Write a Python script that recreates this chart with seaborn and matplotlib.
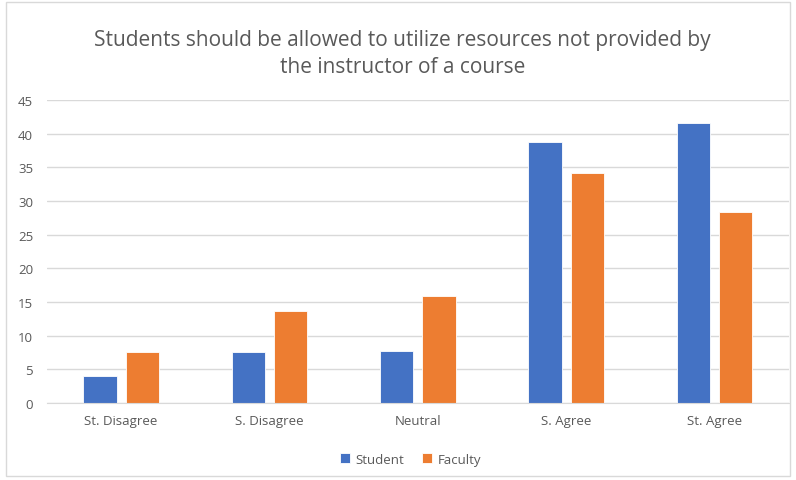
import pandas as pd
import seaborn as sns
import matplotlib.pyplot as plt
from matplotlib.patches import Rectangle

categories = ['St. Disagree', 'S. Disagree', 'Neutral', 'S. Agree', 'St. Agree']
student = [4.0, 7.6, 7.8, 38.7, 41.6]
faculty = [7.6, 13.6, 15.9, 34.2, 28.3]
series = ['Student', 'Faculty']
colors = ['#4472C4', '#ED7D31']

df = pd.DataFrame({
    'Response': categories * 2,
    'Percent': student + faculty,
    'Group': ['Student'] * len(categories) + ['Faculty'] * len(categories),
})

sns.set_style('white')
plt.rcParams['font.family'] = ['Open Sans', 'DejaVu Sans']

fig = plt.figure(figsize=(7.96, 4.81), dpi=100)
ax = fig.add_axes([0.059, 0.160, 0.932, 0.630])

sns.barplot(data=df, x='Response', y='Percent', hue='Group', hue_order=series,
            palette=colors, saturation=1, width=0.57, gap=0.21, ax=ax, legend=True,
            edgecolor='white', linewidth=0.6)

ax.set_ylim(0, 45)
ax.set_yticks(range(0, 46, 5))
ax.set_xlim(-0.5, len(categories) - 0.5)
ax.yaxis.grid(True, color='#D9D9D9', linewidth=1)
ax.set_axisbelow(True)
for s in ['top', 'right', 'left']:
    ax.spines[s].set_visible(False)
ax.spines['bottom'].set_color('#D9D9D9')
ax.tick_params(axis='both', length=0, labelsize=9.5, colors='#595959')
ax.tick_params(axis='y', pad=10)
ax.tick_params(axis='x', pad=8)
ax.set_xlabel('')
ax.set_ylabel('')

fig.text(0.506, 0.888, 'Students should be allowed to utilize resources not provided by\nthe instructor of a course',
         ha='center', va='center', fontsize=15, color='#595959', linespacing=1.35)

ax.legend(loc='upper center', bbox_to_anchor=(0.49, -0.125), ncol=2, frameon=False,
          handlelength=0.75, handleheight=0.75, handletextpad=0.4, columnspacing=1.4,
          fontsize=9.5, labelcolor='#595959')

fig.patches.append(Rectangle((0.008, 0.008), 0.985, 0.985, transform=fig.transFigure,
                             fill=False, edgecolor='#D9D9D9', linewidth=1))

fig.savefig('out.png', dpi=100)
